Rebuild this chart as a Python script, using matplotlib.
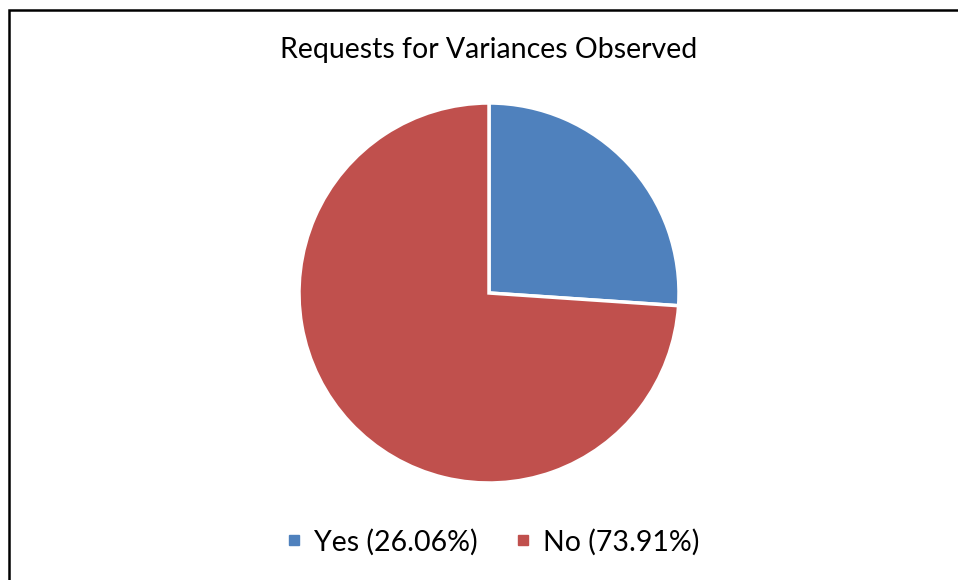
import matplotlib
matplotlib.use("Agg")
import matplotlib.pyplot as plt
from matplotlib.patches import Rectangle
from matplotlib.lines import Line2D

TITLE = "Requests for Variances Observed"
LABELS = ["Yes (26.06%)", "No (73.91%)"]
SHARES = [26.06, 73.91]
COLORS = ["#4F81BD", "#C0504D"]

W, H = 958, 580

plt.rcParams["font.family"] = ["Lato", "DejaVu Sans"]

fig = plt.figure(figsize=(W / 100, H / 100), dpi=100)
fig.patch.set_facecolor("white")

# chart-area border (right and bottom edges run off the canvas)
fig.patches.append(Rectangle((9 / W, -0.1), 1.2, 1 - 10 / H + 0.1,
                             transform=fig.transFigure, fill=False,
                             edgecolor="black", linewidth=1.8))

cx, cy, r = 489, 293, 190
ax = fig.add_axes([(cx - r) / W, (H - cy - r) / H, 2 * r / W, 2 * r / H])
wedges, _ = ax.pie(SHARES, colors=COLORS, startangle=90, counterclock=False,
                   radius=1, wedgeprops=dict(edgecolor="white", linewidth=2.5))
ax.set_xlim(-1, 1)
ax.set_ylim(-1, 1)
ax.set_aspect("equal")
ax.axis("off")

fig.text(cx / W, 1 - 50 / H, TITLE, ha="center", va="center", fontsize=20.5)

# square legend keys, like the office-style chart
handles = [Line2D([], [], marker="s", linestyle="none", markersize=7.5,
                  markerfacecolor=c, markeredgecolor=c) for c in COLORS]
fig.legend(handles, LABELS, loc="center", bbox_to_anchor=(494 / W, 1 - 542 / H),
           ncol=2, frameon=False, fontsize=20.5, handlelength=0.4,
           handletextpad=0.5, columnspacing=1.4)

fig.savefig("out.png", dpi=100)
